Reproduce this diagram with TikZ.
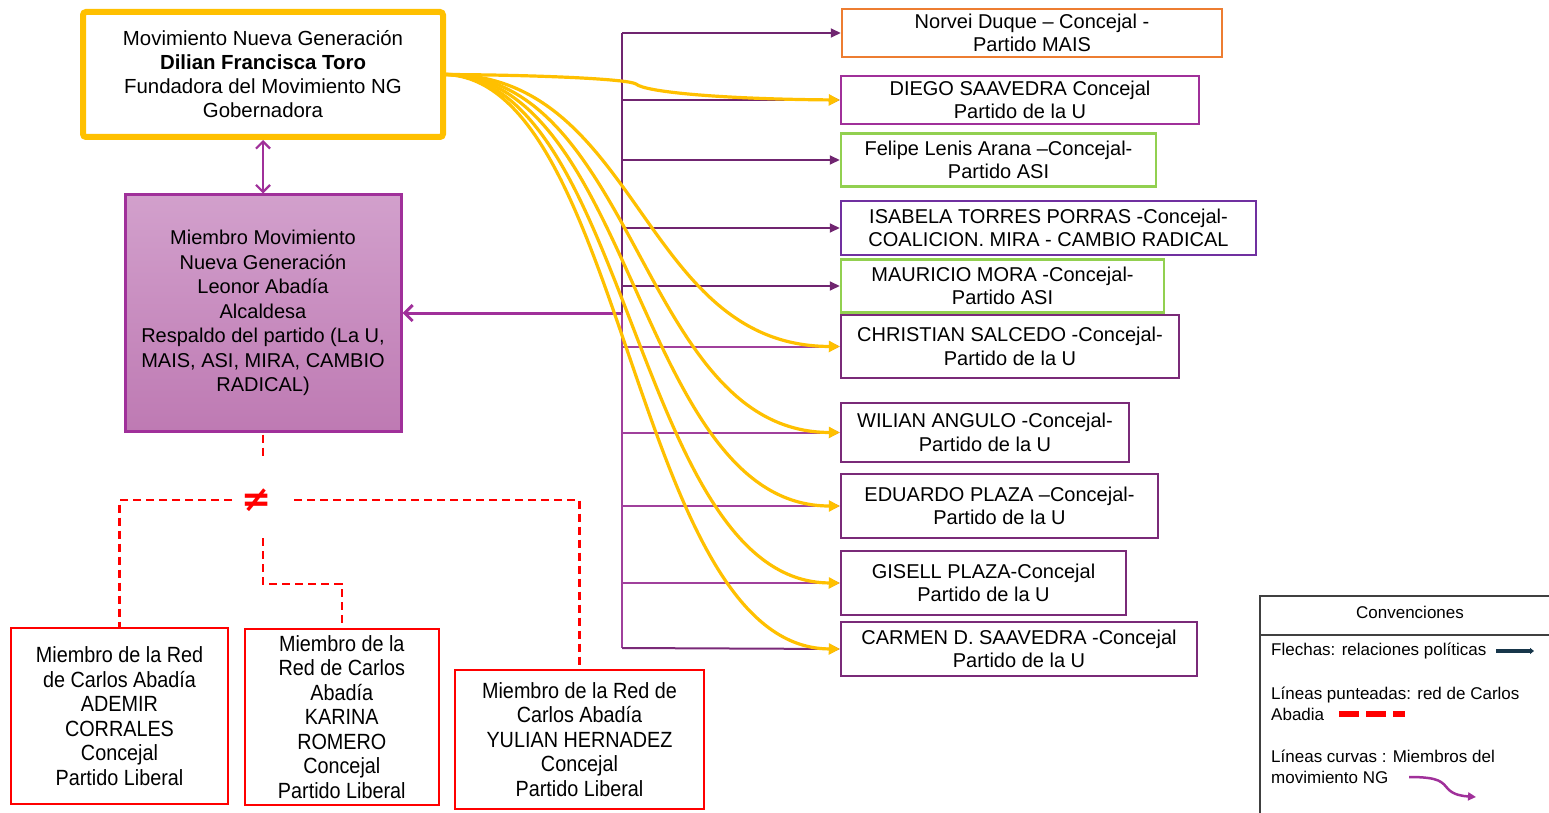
\documentclass[tikz,border=0pt]{standalone}
\usepackage{fontspec}
\setmainfont{Liberation Sans}
\newfontfamily\narrowf[FakeStretch=0.9]{Liberation Sans}
\newfontfamily\dejavu{DejaVu Sans}
\usetikzlibrary{arrows.meta}
\definecolor{ngyellow}{HTML}{FFC000}
\definecolor{dpurple}{HTML}{702570}
\definecolor{mpurple}{HTML}{A0409C}
\definecolor{bpurple}{HTML}{A0309A}
\definecolor{vpurple}{HTML}{7030A0}
\definecolor{lgreen}{HTML}{92D050}
\definecolor{orng}{HTML}{ED7D31}
\definecolor{boxpurple}{HTML}{7A2A78}
\definecolor{legnavy}{HTML}{17364A}
\definecolor{leggray}{HTML}{404040}
\definecolor{mtop}{HTML}{D2A0CC}
\definecolor{mbot}{HTML}{BE7AB3}
\begin{document}
\begin{tikzpicture}[x=1pt,y=-1pt,
  txt/.style={font=\fontsize{20}{23.5}\selectfont, align=center, inner sep=0pt, text=black},
  rbox/.style={txt, line width=2.5pt},
  redbox/.style={font=\narrowf\fontsize{22}{24.5}\selectfont, align=center, inner sep=0pt, draw=red, line width=2.5pt},
  branch/.style={draw=#1, line width=2pt, -{Triangle[length=10pt,width=9pt]}},
  ycurve/.style={draw=ngyellow, line width=3.2pt, -{Triangle[length=11pt,width=11pt]}},
  reddash/.style={draw=red, line width=2.2pt, dash pattern=on 8pt off 5pt},
  legtxt/.style={font=\fontsize{17}{20.5}\selectfont, align=left, inner sep=0pt, anchor=west}
]
\useasboundingbox (0,0) rectangle (1549,813);

% main nodes
\node[txt, draw=ngyellow, line width=6pt, rounded corners=3pt, fill=white,
      minimum width=360pt, minimum height=125pt, font=\fontsize{20.4}{24}\selectfont] (top) at (263,74.5)
  {Movimiento Nueva Generación\\\textbf{Dilian Francisca Toro}\\Fundadora del Movimiento NG\\Gobernadora};
\node[txt, draw=bpurple, line width=3pt, top color=mtop, bottom color=mbot,
      minimum width=276pt, minimum height=236pt, font=\fontsize{20}{24.5}\selectfont] (mbox) at (263,313)
  {Miembro Movimiento\\Nueva Generación\\Leonor Abadía\\Alcaldesa\\Respaldo del partido (La U,\\MAIS, ASI, MIRA, CAMBIO\\RADICAL)};

% right boxes
\node[rbox, draw=orng, minimum width=380pt, minimum height=48pt] (norvei) at (1032,33) {Norvei Duque – Concejal -\\Partido MAIS};
\node[rbox, draw=bpurple, minimum width=358pt, minimum height=48pt] (diego) at (1020,100) {DIEGO SAAVEDRA Concejal\\Partido de la U};
\node[rbox, draw=lgreen, minimum width=315pt, minimum height=53pt] (felipe) at (998.5,160) {Felipe Lenis Arana –Concejal-\\Partido ASI};
\node[rbox, draw=vpurple, minimum width=415pt, minimum height=54pt] (isabela) at (1048.5,228) {ISABELA TORRES PORRAS -Concejal-\\COALICION. MIRA - CAMBIO RADICAL};
\node[rbox, draw=lgreen, minimum width=323pt, minimum height=53pt] (mauricio) at (1002.5,286) {MAURICIO MORA -Concejal-\\Partido ASI};
\node[rbox, draw=boxpurple, minimum width=338pt, minimum height=63pt] (christian) at (1010,346.5) {CHRISTIAN SALCEDO -Concejal-\\Partido de la U};
\node[rbox, draw=boxpurple, minimum width=288pt, minimum height=59pt] (wilian) at (985,432.5) {WILIAN ANGULO -Concejal-\\Partido de la U};
\node[rbox, draw=boxpurple, minimum width=317pt, minimum height=64pt] (eduardo) at (999.5,506) {EDUARDO PLAZA –Concejal-\\Partido de la U};
\node[rbox, draw=boxpurple, minimum width=285pt, minimum height=64pt] (gisell) at (983.5,583) {GISELL PLAZA-Concejal\\Partido de la U};
\node[rbox, draw=boxpurple, minimum width=356pt, minimum height=54pt] (carmen) at (1019,649) {CARMEN D. SAAVEDRA -Concejal\\Partido de la U};

% red boxes
\node[redbox, minimum width=217pt, minimum height=176pt] (red1) at (119.5,716) {Miembro de la Red\\de Carlos Abadía\\ADEMIR\\CORRALES\\Concejal\\Partido Liberal};
\node[redbox, minimum width=194pt, minimum height=176pt] (red2) at (341.8,717) {Miembro de la\\Red de Carlos\\Abadía\\KARINA\\ROMERO\\Concejal\\Partido Liberal};
\node[redbox, minimum width=249pt, minimum height=139pt] (red3) at (579.5,739.5) {Miembro de la Red de\\Carlos Abadía\\YULIAN HERNADEZ\\Concejal\\Partido Liberal};

% trunk
\coordinate (ttop) at (622,33);
\coordinate (tmid) at (622,313);
\coordinate (tbot) at (622,648);
\draw[dpurple, line width=2.5pt] (ttop) -- (tmid);
\draw[mpurple, line width=2pt] (tmid) -- (tbot);
\draw[branch=dpurple] (ttop) -- (norvei.west);
\draw[branch=dpurple] (diego.west -| ttop) -- (diego.west);
\draw[branch=dpurple] (felipe.west -| ttop) -- (felipe.west);
\draw[branch=dpurple] (isabela.west -| ttop) -- (isabela.west);
\draw[branch=dpurple] (mauricio.west -| ttop) -- (mauricio.west);
\draw[branch=mpurple] (christian.west -| ttop) -- (christian.west);
\draw[branch=mpurple] (wilian.west -| ttop) -- (wilian.west);
\draw[branch=mpurple] (eduardo.west -| ttop) -- (eduardo.west);
\draw[branch=mpurple] (gisell.west -| ttop) -- (gisell.west);
\draw[branch=boxpurple] (tbot) -- (carmen.west);

% arrows to the member box
\draw[bpurple, line width=3pt, -{Straight Barb[length=8pt,width=16pt]}] (tmid) -- (mbox.east);
\draw[bpurple, line width=2.2pt, {Straight Barb[length=7pt,width=14pt]}-{Straight Barb[length=7pt,width=14pt]}] (top.south) -- (mbox.north);

% yellow curves
\draw[ycurve] (top.east) .. controls (540,75) and (628,79) .. (636,84) .. controls (645,92) and (720,99) .. (diego.west);
\draw[ycurve] (top.east) .. controls (640,74) and (640,346) .. (christian.west);
\draw[ycurve] (top.east) .. controls (638,76) and (640,432) .. (wilian.west);
\draw[ycurve] (top.east) .. controls (634,78) and (638,506) .. (eduardo.west);
\draw[ycurve] (top.east) .. controls (630,80) and (636,582) .. (gisell.west);
\draw[ycurve] (top.east) .. controls (626,82) and (634,648) .. (carmen.west);

% red dashed network
\node[inner sep=0pt, text=red, font=\dejavu\bfseries\fontsize{36}{36}\selectfont] (neq) at (257,500) {≠};
\coordinate (mdown) at (263,460);
\coordinate (hl) at (232,500);
\coordinate (hr) at (294,500);
\coordinate (mid1) at (263,538);
\coordinate (mid2) at (263,584);
\draw[reddash, dash phase=-2pt] (mbox.south) -- (mdown);
\draw[reddash] (hl) -| (red1.north);
\draw[reddash] (hr) -| (red3.north);
\draw[reddash] (mid1) -- (mid2) -| (red2.north);

% legend
\coordinate (lgA) at (1260,813);
\coordinate (lgB) at (1260,596);
\coordinate (lgC) at (1549,596);
\coordinate (lgD) at (1260,635);
\coordinate (lgE) at (1549,635);
\draw[leggray, line width=1.5pt] (lgA) -- (lgB) -- (lgC);
\draw[leggray, line width=1.5pt] (lgD) -- (lgE);
\node[font=\fontsize{17}{20}\selectfont, inner sep=0pt] (conv) at (1410,612) {Convenciones};
\node[legtxt] (l1) at (1271,651) {Flechas: relaciones políticas};
\node[legtxt] (l2) at (1271,704) {Líneas punteadas: red de Carlos\\Abadia};
\node[legtxt] (l3) at (1271,767) {Líneas curvas : Miembros del\\movimiento NG};
\coordinate (a1) at (1496,651);
\coordinate (a2) at (1534,651);
\draw[legnavy, line width=3.5pt, -{Triangle[length=4pt,width=6pt]}] (a1) -- (a2);
\coordinate (d1) at (1339,714);
\coordinate (d2) at (1405,714);
\draw[red, line width=6pt, dash pattern=on 20pt off 7pt] (d1) -- (d2);
\coordinate (c1) at (1409,777);
\coordinate (c2) at (1476,797);
\draw[bpurple, line width=2.5pt, -{Triangle[length=8pt,width=8pt]}] (c1) .. controls (1440,777) and (1442,782) .. (1448,789) .. controls (1454,795) and (1462,796) .. (c2);
\end{tikzpicture}
\end{document}
